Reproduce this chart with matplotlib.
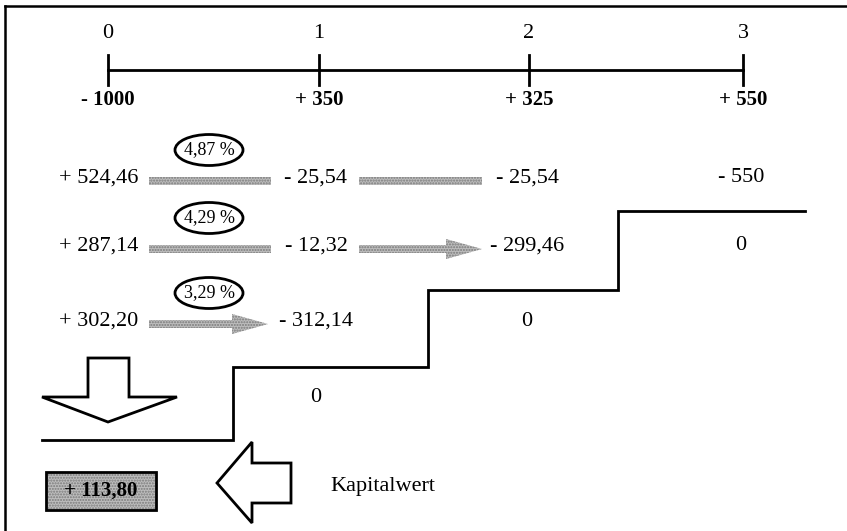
import matplotlib.pyplot as plt
from matplotlib.patches import Polygon, Rectangle, Ellipse

# Zahlungsreihe (Zeitpunkte und Zahlungen)
periods = ["0", "1", "2", "3"]
cash_flows = ["- 1000", "+ 350", "+ 325", "+ 550"]

# Aufzinsungs-Tabelle: Zeile -> Werte je Spalte (None = leer)
rows = [
    ["+ 524,46", "- 25,54", "- 25,54", "- 550"],
    ["+ 287,14", "- 12,32", "- 299,46", "0"],
    ["+ 302,20", "- 312,14", "0", None],
    [None, "0", None, None],
]
rates = ["4,87 %", "4,29 %", "3,29 %"]
# Pfeile je Zeile: (von Spalte, bis Spalte, mit Spitze)
arrows = [
    [(0, 1, False), (1, 2, False)],
    [(0, 1, False), (1, 2, True)],
    [(0, 1, True)],
]
npv_label = "+ 113,80"
npv_text = "Kapitalwert"

# layout (pixel coordinates, y downwards)
W, H = 847, 531
tick_x = [108, 319, 529, 743]
line_y = 70
col_x = [99, 316, 527, 741]
row_y = [178, 246, 321, 398]
stairs_x = [42, 233, 233, 428, 428, 618, 618, 805]
stairs_y = [440, 440, 367, 367, 290, 290, 211, 211]

serif = "Liberation Serif"
bar_face = "#bdbdbd"
bar_hatch = "#7a7a7a"

fig = plt.figure(figsize=(W / 100, H / 100), dpi=100)
ax = fig.add_axes([0, 0, 1, 1])
ax.set_xlim(0, W)
ax.set_ylim(H, 0)
ax.axis("off")

# frame (top and left edge)
ax.plot([5, W], [6, 6], color="black", lw=1.8)
ax.plot([5, 5], [6, H], color="black", lw=1.8)

# time line
ax.plot([tick_x[0], tick_x[-1]], [line_y, line_y], color="black", lw=2)
for x, p, cf in zip(tick_x, periods, cash_flows):
    ax.plot([x, x], [line_y - 15, line_y + 15], color="black", lw=2)
    ax.text(x, 33, p, ha="center", va="center", fontsize=16, family=serif)
    ax.text(x, 100, cf, ha="center", va="center", fontsize=15,
            family=serif, fontweight="bold")

# table values
for r, vals in enumerate(rows):
    for c, v in enumerate(vals):
        if v is None:
            continue
        ax.text(col_x[c], row_y[r], v, ha="center", va="center",
                fontsize=16, family=serif)


def shaded_arrow(x0, x1, y, head):
    h = 4
    if head:
        hb = x1 - 36
        pts = [(x0, y - h), (hb, y - h), (hb, y - 10), (x1, y),
               (hb, y + 10), (hb, y + h), (x0, y + h)]
    else:
        pts = [(x0, y - h), (x1, y - h), (x1, y + h), (x0, y + h)]
    ax.add_patch(Polygon(pts, closed=True, facecolor=bar_face,
                         edgecolor=bar_hatch, lw=0, hatch="......"))


for r, arrs in enumerate(arrows):
    for a, b, head in arrs:
        x0 = col_x[a] + (50 if a == 0 else 43)
        x1 = col_x[b] - (48 if head and b == 1 else 45)
        shaded_arrow(x0, x1, row_y[r] + 3, head)

# interest rates in ellipses
for r, rate in enumerate(rates):
    cx, cy = 209, row_y[r] - 28
    ax.add_patch(Ellipse((cx, cy), 68, 31, facecolor="white",
                         edgecolor="black", lw=2))
    ax.text(cx, cy, rate, ha="center", va="center", fontsize=13,
            family=serif)

# staircase
ax.plot(stairs_x, stairs_y, color="black", lw=2, solid_joinstyle="miter")

# hollow down arrow
down = [(88, 358), (129, 358), (129, 397), (177, 397), (108, 422),
        (42, 397), (88, 397)]
ax.add_patch(Polygon(down, closed=True, facecolor="white",
                     edgecolor="black", lw=2))

# hollow left arrow
left = [(217, 483), (252, 442), (252, 463), (291, 463), (291, 503),
        (252, 503), (252, 523)]
ax.add_patch(Polygon(left, closed=True, facecolor="white",
                     edgecolor="black", lw=2))

# result box
ax.add_patch(Rectangle((46, 472), 110, 38, facecolor=bar_face,
                       edgecolor=bar_hatch, lw=0, hatch="......"))
ax.add_patch(Rectangle((46, 472), 110, 38, facecolor="none",
                       edgecolor="black", lw=2))
ax.text(101, 491, npv_label, ha="center", va="center", fontsize=15,
        family=serif, fontweight="bold")
ax.text(330, 487, npv_text, ha="left", va="center", fontsize=16,
        family=serif)

fig.savefig("out.png", dpi=100)
